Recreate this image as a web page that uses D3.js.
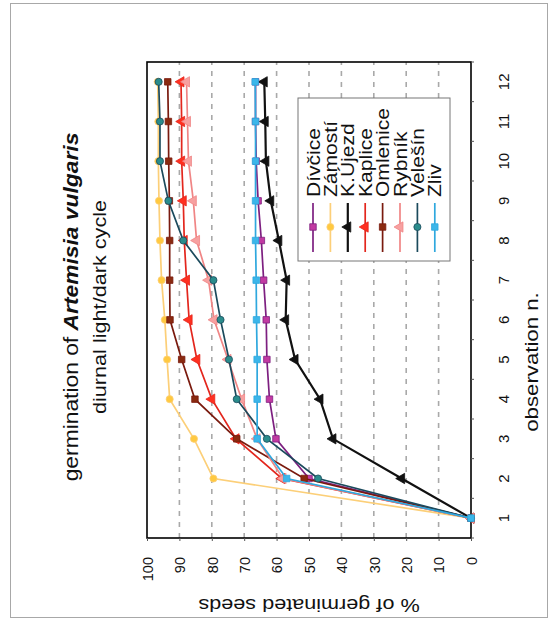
<!DOCTYPE html>
<html>
<head>
<meta charset="utf-8">
<script src="https://cdn.jsdelivr.net/npm/d3@7/dist/d3.min.js"></script>
<style>
  html, body { margin: 0; padding: 0; background: #fff; }
  svg { display: block; font-family: "Liberation Sans", Arial, sans-serif; }
</style>
</head>
<body>
<svg id="chart" width="553" height="624"></svg>
<script>
// Germination of Artemisia vulgaris, diurnal light/dark cycle
const observations = [1, 2, 3, 4, 5, 6, 7, 8, 9, 10, 11, 12];
const valueTicks = [0, 10, 20, 30, 40, 50, 60, 70, 80, 90, 100];
const seriesNames = ["Dívčice", "Zámostí", "K.Újezd", "Kaplice", "Omlenice", "Rybník", "Velešín", "Zliv"];

const divcice  = [0, 50, 60.2, 62.2, 63, 63.2, 64, 64.7, 65.7, 66.3, 66.5, 66.5];
const zamosti  = [0, 79.5, 85.5, 93, 93.8, 94.5, 95.5, 96, 96.3, 96.5, 96.5, 96.7];
const kujezd   = [0, 21.4, 42.6, 46.6, 54.3, 57.2, 56.9, 59.3, 61.8, 63.3, 63.5, 63.8];
const kaplice  = [0, 58.4, 72.5, 80, 84.6, 87, 87.8, 88.5, 88.8, 89.3, 89.3, 89.5];
const omlenice = [0, 51.5, 72.3, 85.2, 89.3, 92.9, 93, 93, 93.1, 93.3, 93.4, 93.6];
const rybnik   = [0, 58, 66, 70.8, 75, 79.3, 81, 84.7, 85.7, 87.2, 87.5, 87.8];
const velesin  = [0, 47.2, 63, 72.3, 74.7, 77.3, 79.5, 88.8, 93.4, 96, 96, 96.4];
const zliv     = [0, 56.9, 66, 66, 66, 66.2, 66.3, 66.5, 66.5, 66.5, 66.5, 66.6];

const seriesValues = [divcice, zamosti, kujezd, kaplice, omlenice, rybnik, velesin, zliv];
const lineColors   = ["#7d1f80", "#fccf78", "#111111", "#e3261d", "#7a1a0e", "#f08585", "#1b4a5c", "#2fa8de"];
const markerFills  = ["#c23aa2", "#ffc940", "#111111", "#ff3020", "#8a2a10", "#f7a0a0", "#2a8c8c", "#3bb6ea"];
const markerShapes = [d3.symbolSquare, d3.symbolCircle, d3.symbolTriangle, d3.symbolTriangle,
                      d3.symbolSquare, d3.symbolTriangle, d3.symbolCircle, d3.symbolSquare];

const FONT_STRETCH = 1.17;

const svg = d3.select("#chart");
svg.append("rect").attr("width", 553).attr("height", 624).attr("fill", "#fff");

// The chart is laid out in portrait coordinates and turned a quarter turn.
const root = svg.append("g").attr("transform", "translate(0,624) rotate(-90)");

// chart area border
root.append("rect")
  .attr("x", 6.5).attr("y", 10.5).attr("width", 614).attr("height", 537)
  .attr("fill", "none").attr("stroke", "#a8a8a8").attr("stroke-width", 1);

const plot = { left: 86, right: 562, top: 147, bottom: 471 };

const x = d3.scaleBand().domain(observations).range([plot.left, plot.right]);
const xc = d => x(d) + x.bandwidth() / 2;
const y = d3.scaleLinear().domain([0, 100]).range([plot.bottom, plot.top]);

const markerSize = shape => shape === d3.symbolTriangle ? 46 : (shape === d3.symbolCircle ? 40 : 42);

function label(parent, u, v, str, size, anchor) {
  return parent.append("text")
    .attr("transform", `translate(${u},${v}) scale(${FONT_STRETCH},1)`)
    .attr("text-anchor", anchor)
    .attr("font-size", size)
    .attr("fill", "#111")
    .text(str);
}

// horizontal dashed gridlines
root.append("g").selectAll("line")
  .data(valueTicks.filter(t => t > 0 && t < 100))
  .join("line")
  .attr("x1", plot.left).attr("x2", plot.right)
  .attr("y1", d => y(d)).attr("y2", d => y(d))
  .attr("stroke", "#a9a9a9").attr("stroke-width", 1.6)
  .attr("stroke-dasharray", "5,6");

// plot area frame
root.append("rect")
  .attr("x", plot.left).attr("y", plot.top)
  .attr("width", plot.right - plot.left).attr("height", plot.bottom - plot.top)
  .attr("fill", "none").attr("stroke", "#000").attr("stroke-width", 1.6);

// value axis
const yAxis = root.append("g")
  .attr("transform", `translate(${plot.left},0)`)
  .call(d3.axisLeft(y).tickValues(valueTicks).tickSize(3).tickPadding(16));
yAxis.select(".domain").remove();
yAxis.selectAll("line").attr("stroke", "#555");
yAxis.selectAll("text")
  .attr("font-size", 14.5).attr("font-family", "Liberation Sans, Arial, sans-serif")
  .attr("fill", "#111").attr("dy", "0.36em");

// category axis: labels at band centres, ticks at band edges
const xAxis = root.append("g")
  .attr("transform", `translate(0,${plot.bottom})`)
  .call(d3.axisBottom(x).tickSize(0).tickPadding(38));
xAxis.select(".domain").remove();
xAxis.selectAll("text")
  .attr("font-size", 15).attr("font-family", "Liberation Sans, Arial, sans-serif")
  .attr("fill", "#111").attr("dy", "0");
root.append("g").selectAll("line")
  .data(observations.concat([13]))
  .join("line")
  .attr("x1", d => d <= 12 ? x(d) : plot.right)
  .attr("x2", d => d <= 12 ? x(d) : plot.right)
  .attr("y1", plot.bottom).attr("y2", plot.bottom + 3)
  .attr("stroke", "#555");

// series
const lineGen = d3.line().x((v, i) => xc(observations[i])).y(v => y(v));
seriesNames.forEach((name, s) => {
  const g = root.append("g");
  g.append("path")
    .attr("d", lineGen(seriesValues[s]))
    .attr("fill", "none")
    .attr("stroke", lineColors[s])
    .attr("stroke-width", s === 2 ? 2.2 : 1.7);
  g.selectAll("path.m")
    .data(seriesValues[s])
    .join("path")
    .attr("class", "m")
    .attr("transform", (v, i) => `translate(${xc(observations[i])},${y(v)})`)
    .attr("d", d3.symbol().type(markerShapes[s]).size(markerSize(markerShapes[s])))
    .attr("fill", markerFills[s])
    .attr("stroke", lineColors[s])
    .attr("stroke-width", 0.8);
});

// legend
const lg = root.append("g");
lg.append("rect")
  .attr("x", 363).attr("y", 298).attr("width", 163).attr("height", 152)
  .attr("fill", "#fff").attr("stroke", "#777").attr("stroke-width", 1);
seriesNames.forEach((name, s) => {
  const cy = 313 + s * 17.4;
  lg.append("line")
    .attr("x1", 372).attr("x2", 421).attr("y1", cy).attr("y2", cy)
    .attr("stroke", lineColors[s]).attr("stroke-width", s === 2 ? 2.2 : 1.7);
  lg.append("path")
    .attr("transform", `translate(397,${cy})`)
    .attr("d", d3.symbol().type(markerShapes[s]).size(markerSize(markerShapes[s])))
    .attr("fill", markerFills[s]).attr("stroke", lineColors[s]).attr("stroke-width", 0.8);
  label(lg, 427, cy + 6.5, name, 18, "start");
});

// titles
const t1 = root.append("text")
  .attr("transform", `translate(317,78) scale(${FONT_STRETCH},1)`)
  .attr("text-anchor", "middle").attr("font-size", 19.5).attr("fill", "#111");
t1.append("tspan").text("germination of ");
t1.append("tspan").attr("font-weight", "bold").attr("font-style", "italic").text("Artemisia vulgaris");
label(root, 317, 106, "diurnal light/dark cycle", 18.5, "middle");

label(root, 262, 538, "observation n.", 19, "middle");

// value axis title, reading upward in portrait layout
root.append("text")
  .attr("transform", `translate(25,309) rotate(-90) scale(${FONT_STRETCH},1)`)
  .attr("text-anchor", "middle").attr("font-size", 18.5).attr("fill", "#111")
  .text("% of germinated seeds");
</script>
</body>
</html>
